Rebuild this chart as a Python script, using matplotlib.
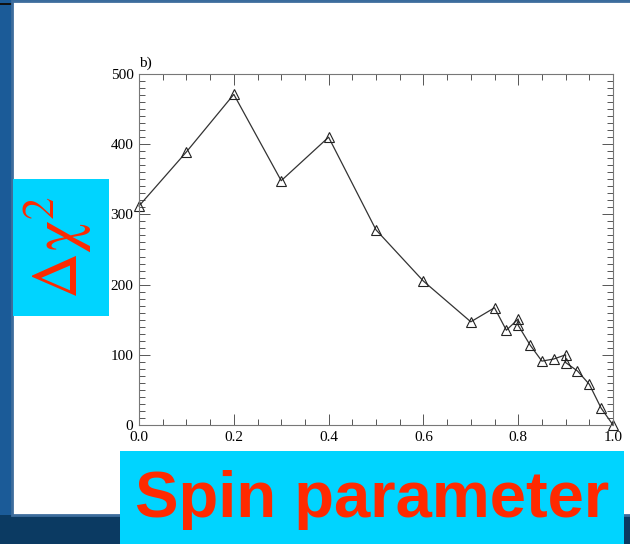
import matplotlib.pyplot as plt
from matplotlib.patches import Rectangle
from matplotlib.ticker import MultipleLocator

# spin parameter vs delta chi-square
spin = [0.0, 0.1, 0.2, 0.3, 0.4, 0.5, 0.6, 0.7, 0.75, 0.775, 0.8, 0.8,
        0.825, 0.85, 0.875, 0.9, 0.9, 0.925, 0.95, 0.975, 1.0]
dchi2 = [312, 389, 471, 348, 410, 278, 205, 147, 167, 135, 151, 142,
         114, 91, 94, 100, 89, 77, 58, 24, 0]

xticks = [0.0, 0.2, 0.4, 0.6, 0.8, 1.0]
yticks = [0, 100, 200, 300, 400, 500]

plt.rcParams['mathtext.fontset'] = 'stix'
plt.rcParams['mathtext.default'] = 'rm'

fig = plt.figure(figsize=(6.3, 5.44), dpi=100)
W, H = 630, 544

def px_rect(x0, y0, x1, y1, **kw):
    # rectangle given in pixel coords from top-left
    r = Rectangle((x0 / W, 1 - y1 / H), (x1 - x0) / W, (y1 - y0) / H,
                  transform=fig.transFigure, **kw)
    fig.patches.append(r)
    return r

# slide background
px_rect(0, 0, W, H, facecolor='#1b5b98', edgecolor='none', zorder=0)
px_rect(0, 515, W, H, facecolor='#0b3a62', edgecolor='none', zorder=0)
px_rect(0, 3, 12, 5, facecolor='#111111', edgecolor='none', zorder=0)
# white panel
px_rect(12, 1, W + 5, 515, facecolor='white', edgecolor='#3d6d9d',
        linewidth=2.0, zorder=1)

ax = fig.add_axes([139 / W, 1 - 425 / H, (613 - 139) / W, (425 - 74) / H])
ax.set_zorder(3)
ax.patch.set_alpha(0)
ax.plot(spin, dchi2, color='#333333', linewidth=0.9, marker='^',
        markersize=7, markerfacecolor='none', markeredgecolor='#222222',
        markeredgewidth=0.8, clip_on=False)
ax.set_xlim(0, 1)
ax.set_ylim(0, 500)
ax.set_xticks(xticks)
ax.set_yticks(yticks)
ax.xaxis.set_minor_locator(MultipleLocator(0.05))
ax.yaxis.set_minor_locator(MultipleLocator(10))
ax.set_xticklabels([f'{t:.1f}' for t in xticks])
ax.tick_params(which='both', direction='in', top=True, right=True,
               color='#555555', width=0.7)
ax.tick_params(which='major', length=8, labelsize=11, pad=4)
ax.tick_params(which='minor', length=4)
for lab in ax.get_xticklabels() + ax.get_yticklabels():
    lab.set_family('Liberation Serif')
for s in ax.spines.values():
    s.set_color('#777777')
    s.set_linewidth(0.8)
ax.text(0.0, 1.01, 'b)', transform=ax.transAxes, family='Liberation Serif',
        fontsize=11, ha='left', va='bottom')

# axis title boxes
px_rect(13, 179, 109, 316, facecolor='#00d4ff', edgecolor='none', zorder=4)
px_rect(120, 451, 624, H + 2, facecolor='#00d4ff', edgecolor='none', zorder=4)

fig.text(58 / W, 1 - 248 / H, r'$\Delta\chi^2$', color='#ff2a00',
         fontsize=46, rotation=90, ha='center', va='center', zorder=5)
fig.text(372 / W, 1 - 500 / H, 'Spin parameter', color='#ff2a00',
         family='Liberation Sans', weight='bold', fontsize=47,
         ha='center', va='center', zorder=5)

fig.savefig('out.png', dpi=100)
